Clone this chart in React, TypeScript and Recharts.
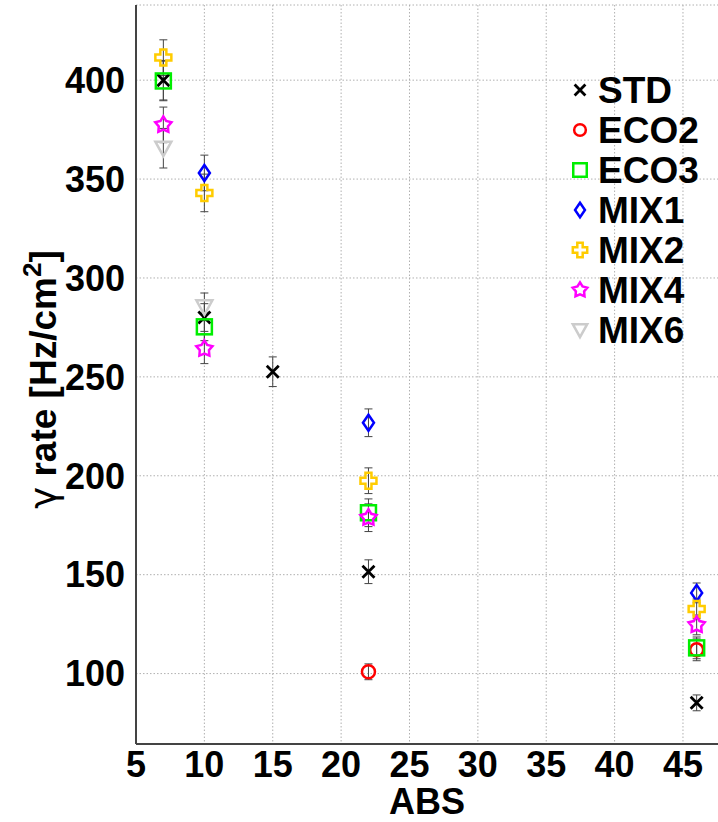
import React from 'react';
import { ScatterChart, Scatter, XAxis, YAxis, CartesianGrid, ErrorBar, Legend, Label } from 'recharts';

// gamma rate per gas mixture vs ABS setting
const stdAbs = [7, 10, 15, 22, 46];
const stdRate = [400, 280, 252.6, 151.5, 85.2];
const stdErr = [10, 7, 7.5, 6, 4];

const eco2Abs = [22, 46];
const eco2Rate = [100.9, 112];
const eco2Err = [4, 5.5];

const eco3Abs = [7, 10, 22, 46];
const eco3Rate = [399.6, 275.3, 181.3, 113];
const eco3Err = [10, 7, 7, 5.5];

const mix1Abs = [10, 22, 46];
const mix1Rate = [353.1, 226.8, 140.8];
const mix1Err = [9, 7, 5];

const mix2Abs = [7, 10, 22, 46];
const mix2Rate = [411.4, 343, 197.5, 132.7];
const mix2Err = [9, 9.5, 6.5, 5];

const mix4Abs = [7, 10, 22, 46];
const mix4Rate = [377.4, 264.2, 178.8, 124.6];
const mix4Err = [9, 7.5, 7, 5];

const mix6Abs = [7, 10];
const mix6Rate = [365.6, 285.4];
const mix6Err = [10, 7];

const xMajorTicks = [5, 10, 15, 20, 25, 30, 35, 40, 45];
const xMinorTicks = [6, 7, 8, 9, 11, 12, 13, 14, 16, 17, 18, 19, 21, 22, 23, 24, 26, 27, 28, 29, 31, 32, 33, 34, 36, 37, 38, 39, 41, 42, 43, 44, 46, 47];
const yMajorTicks = [100, 150, 200, 250, 300, 350, 400];
const yMinorTicks = [70, 80, 90, 110, 120, 130, 140, 160, 170, 180, 190, 210, 220, 230, 240, 260, 270, 280, 290, 310, 320, 330, 340, 360, 370, 380, 390, 410, 420, 430];

const X_DOMAIN: [number, number] = [5, 48];
const Y_DOMAIN: [number, number] = [64.4, 438];

const FONT = '"Liberation Sans", Arial, Helvetica, sans-serif';

type Kind = 'cross' | 'circle' | 'square' | 'diamond' | 'plus' | 'star' | 'triangle';

const toPoints = (abs: number[], rate: number[], err: number[]) =>
  abs.map((a, i) => ({ abs: a, rate: rate[i], err: err[i] }));

const series: { name: string; kind: Kind; color: string; data: { abs: number; rate: number; err: number }[] }[] = [
  { name: 'STD', kind: 'cross', color: '#000000', data: toPoints(stdAbs, stdRate, stdErr) },
  { name: 'ECO2', kind: 'circle', color: '#ff0000', data: toPoints(eco2Abs, eco2Rate, eco2Err) },
  { name: 'ECO3', kind: 'square', color: '#00ee00', data: toPoints(eco3Abs, eco3Rate, eco3Err) },
  { name: 'MIX1', kind: 'diamond', color: '#0000ff', data: toPoints(mix1Abs, mix1Rate, mix1Err) },
  { name: 'MIX2', kind: 'plus', color: '#ffcc00', data: toPoints(mix2Abs, mix2Rate, mix2Err) },
  { name: 'MIX4', kind: 'star', color: '#ff00ff', data: toPoints(mix4Abs, mix4Rate, mix4Err) },
  { name: 'MIX6', kind: 'triangle', color: '#cccccc', data: toPoints(mix6Abs, mix6Rate, mix6Err) },
];

const starPath = (cx: number, cy: number, R: number, r: number) => {
  let d = '';
  for (let i = 0; i < 10; i++) {
    const ang = -Math.PI / 2 + (i * Math.PI) / 5;
    const rad = i % 2 === 0 ? R : r;
    d += `${i === 0 ? 'M' : 'L'}${cx + rad * Math.cos(ang)},${cy + rad * Math.sin(ang)}`;
  }
  return d + 'Z';
};

const plusPath = (cx: number, cy: number, a: number, b: number) =>
  `M${cx - a},${cy - b}L${cx + a},${cy - b}L${cx + a},${cy - a}L${cx + b},${cy - a}L${cx + b},${cy + a}` +
  `L${cx + a},${cy + a}L${cx + a},${cy + b}L${cx - a},${cy + b}L${cx - a},${cy + a}L${cx - b},${cy + a}` +
  `L${cx - b},${cy - a}L${cx - a},${cy - a}Z`;

const Marker = ({ kind, cx, cy, color, s = 1 }: { kind: Kind; cx: number; cy: number; color: string; s?: number }) => {
  const common = { stroke: color, strokeWidth: 2.5, fill: 'none' };
  switch (kind) {
    case 'cross':
      return (
        <path
          d={`M${cx - 6 * s},${cy - 6 * s}L${cx + 6 * s},${cy + 6 * s}M${cx - 6 * s},${cy + 6 * s}L${cx + 6 * s},${cy - 6 * s}`}
          {...common}
          strokeWidth={2.8}
        />
      );
    case 'circle':
      return <circle cx={cx} cy={cy} r={6.5 * s} {...common} />;
    case 'square':
      return <rect x={cx - 7.5 * s} y={cy - 7.5 * s} width={15 * s} height={15 * s} {...common} />;
    case 'diamond':
      return <path d={`M${cx},${cy - 8 * s}L${cx + 5.5 * s},${cy}L${cx},${cy + 8 * s}L${cx - 5.5 * s},${cy}Z`} {...common} />;
    case 'plus':
      return <path d={plusPath(cx, cy, 3 * s, 8 * s)} {...common} />;
    case 'star':
      return <path d={starPath(cx, cy, 8.5 * s, 4.8 * s)} {...common} />;
    case 'triangle':
      return <path d={`M${cx - 8 * s},${cy - 6.5 * s}L${cx + 8 * s},${cy - 6.5 * s}L${cx},${cy + 8 * s}Z`} {...common} />;
  }
  return null;
};

const LegendBox = () => (
  <svg width={150} height={290}>
    {series.map((sr, i) => (
      <g key={sr.name}>
        <Marker kind={sr.kind} cx={15} cy={20 + i * 40} color={sr.color} s={0.9} />
        <text x={33} y={33 + i * 40} fontFamily={FONT} fontWeight="bold" fontSize={37} fill="#000">
          {sr.name}
        </text>
      </g>
    ))}
  </svg>
);

const YTitle = ({ viewBox }: any) => {
  const x = viewBox.x + 56;
  const y = viewBox.y + viewBox.height / 2 + 5;
  return (
    <text
      x={x}
      y={y}
      transform={`rotate(-90, ${x}, ${y})`}
      textAnchor="middle"
      fontFamily={FONT}
      fontWeight="bold"
      fontSize={37}
      fill="#000"
    >
      <tspan fontWeight="normal" fontFamily='"DejaVu Sans", sans-serif'>γ</tspan>
      <tspan> rate [Hz/cm</tspan>
      <tspan dy={-15} fontSize={26}>2</tspan>
      <tspan dy={15}>]</tspan>
    </text>
  );
};

const XTitle = ({ viewBox }: any) => (
  <text
    x={viewBox.x + viewBox.width / 2 - 3}
    y={viewBox.y + 70}
    textAnchor="middle"
    fontFamily={FONT}
    fontWeight="bold"
    fontSize={36}
    fill="#000"
  >
    ABS
  </text>
);

const tickFont = { fontFamily: FONT, fontWeight: 'bold', fontSize: 36, fill: '#000' };

export default function App() {
  return (
    <div style={{ position: 'absolute', left: 0, top: 0, width: 718, height: 822, overflow: 'hidden', background: '#fff' }}>
      <ScatterChart width={730} height={822} margin={{ top: 5, right: 6, left: 0, bottom: 0 }}>
        <CartesianGrid stroke="#b0b0b0" strokeDasharray="1.5 2" />
        <XAxis
          type="number"
          dataKey="abs"
          domain={X_DOMAIN}
          ticks={xMajorTicks}
          allowDataOverflow
          height={78}
          tickLine={false}
          tickSize={0}
          tickMargin={7}
          axisLine={{ stroke: '#444', strokeWidth: 2 }}
          tick={tickFont}
          interval={0}
        >
          <Label content={<XTitle />} />
        </XAxis>
        <XAxis xAxisId="maj" type="number" domain={X_DOMAIN} ticks={xMajorTicks} allowDataOverflow mirror height={0} tick={false} axisLine={false} tickSize={18} tickLine={{ stroke: '#666', strokeWidth: 1.5 }} interval={0} />
        <XAxis xAxisId="min" type="number" domain={X_DOMAIN} ticks={xMinorTicks} allowDataOverflow mirror height={0} tick={false} axisLine={false} tickSize={9} tickLine={{ stroke: '#666', strokeWidth: 1.5 }} interval={0} />
        <XAxis xAxisId="top" type="number" orientation="top" domain={X_DOMAIN} mirror height={0} tick={false} tickLine={false} axisLine={{ stroke: '#888', strokeWidth: 2 }} />
        <YAxis
          type="number"
          dataKey="rate"
          domain={Y_DOMAIN}
          ticks={yMajorTicks}
          allowDataOverflow
          width={136}
          tickLine={false}
          tickSize={0}
          tickMargin={11}
          axisLine={{ stroke: '#444', strokeWidth: 2 }}
          tick={tickFont}
          interval={0}
        >
          <Label content={<YTitle />} />
        </YAxis>
        <YAxis yAxisId="maj" type="number" domain={Y_DOMAIN} ticks={yMajorTicks} allowDataOverflow mirror width={0} tick={false} axisLine={false} tickSize={22} tickLine={{ stroke: '#666', strokeWidth: 1.5 }} interval={0} />
        <YAxis yAxisId="min" type="number" domain={Y_DOMAIN} ticks={yMinorTicks} allowDataOverflow mirror width={0} tick={false} axisLine={false} tickSize={11} tickLine={{ stroke: '#666', strokeWidth: 1.5 }} interval={0} />
        <Legend
          layout="vertical"
          align="center"
          verticalAlign="middle"
          wrapperStyle={{ left: 565, top: 70, width: 150, height: 290 }}
          content={() => <LegendBox />}
        />
        {series.map((sr) => (
          <Scatter
            key={sr.name}
            name={sr.name}
            data={sr.data}
            isAnimationActive={false}
            shape={(p: any) => <Marker kind={sr.kind} cx={p.cx} cy={p.cy} color={sr.color} />}
          >
            <ErrorBar dataKey="err" direction="y" width={4} stroke="#444" strokeWidth={1} />
          </Scatter>
        ))}
      </ScatterChart>
    </div>
  );
}
